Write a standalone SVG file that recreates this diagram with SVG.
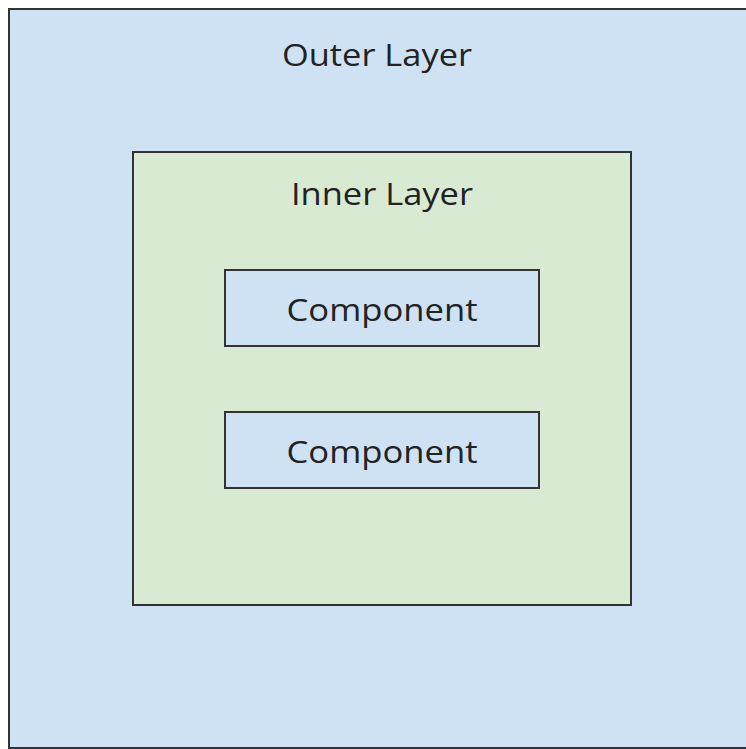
<svg xmlns="http://www.w3.org/2000/svg" width="746" height="749" viewBox="0 0 746 749">
<style>
.box{stroke:#333;stroke-width:2}
.blue{fill:#cfe2f3}
.green{fill:#d9ead3}
text{font-family:"Open Sans",sans-serif;font-size:31px;fill:#222;text-anchor:middle}
</style>
<rect width="746" height="749" fill="#ffffff"/>
<g id="outer">
<rect class="box blue" x="9" y="9" width="750" height="739"/>
<text x="377" y="66" textLength="190" lengthAdjust="spacingAndGlyphs">Outer Layer</text>
</g>
<g id="inner">
<rect class="box green" x="133" y="152" width="498" height="453"/>
<text x="382" y="205" textLength="182" lengthAdjust="spacingAndGlyphs">Inner Layer</text>
</g>
<g id="component1">
<rect class="box blue" x="225" y="270" width="314" height="76"/>
<text x="382" y="321" textLength="191" lengthAdjust="spacingAndGlyphs">Component</text>
</g>
<g id="component2">
<rect class="box blue" x="225" y="412" width="314" height="76"/>
<text x="382" y="463" textLength="191" lengthAdjust="spacingAndGlyphs">Component</text>
</g>
<g id="connectors"></g>
</svg>
